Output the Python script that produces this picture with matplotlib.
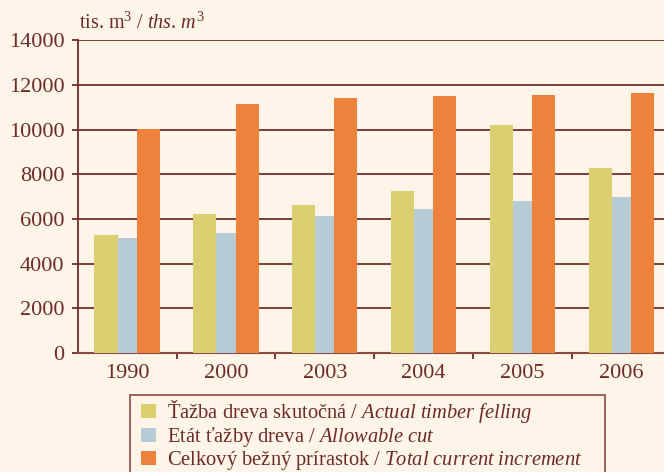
import matplotlib.pyplot as plt
import numpy as np
from matplotlib.patches import Rectangle

plt.rcParams['font.family'] = ['Liberation Serif', 'DejaVu Serif']
plt.rcParams['mathtext.fontset'] = 'custom'
plt.rcParams['mathtext.rm'] = 'Liberation Serif'
plt.rcParams['mathtext.it'] = 'Liberation Serif:italic'

years = ['1990', '2000', '2003', '2004', '2005', '2006']
felling = [5270, 6240, 6640, 7260, 10210, 8290]
allowable = [5130, 5350, 6150, 6460, 6820, 7000]
increment = [10030, 11140, 11410, 11500, 11540, 11630]

labels = [
    'Ťažba dreva skutočná / $\\mathit{Actual\\ timber\\ felling}$',
    'Etát ťažby dreva / $\\mathit{Allowable\\ cut}$',
    'Celkový bežný prírastok / $\\mathit{Total\\ current\\ increment}$',
]

bg = '#fef4e8'
brown = '#6e2a2a'
colors = ['#dccf72', '#b6cbd5', '#ee823c']

fig = plt.figure(figsize=(6.64, 4.72), dpi=100, facecolor=bg)
ax = fig.add_axes([0.117, 0.252, 0.893, 0.663])
ax.set_facecolor(bg)

x = np.arange(len(years))
# left edges and widths of the three bars in a group
edges = [-0.33, -0.097, 0.097]
widths = [0.233, 0.194, 0.233]
series = [felling, allowable, increment]
for s, e, w, c, lab in zip(series, edges, widths, colors, labels):
    ax.bar(x + e, s, width=w, align='edge', color=c, label=lab, zorder=3)

ax.set_xlim(-0.5, 5.5)
ax.set_ylim(0, 14000)
ax.set_yticks(np.arange(0, 14001, 2000))
ax.set_xticks(x)
ax.set_xticklabels(years)
ax.set_xticks(np.arange(0.5, 5.5, 1), minor=True)

ax.yaxis.grid(True, color='#70302e', linewidth=1.3, zorder=1)
ax.set_axisbelow(True)

for sp in ['top', 'right']:
    ax.spines[sp].set_visible(False)
ax.spines['left'].set_color(brown)
ax.spines['left'].set_linewidth(1.3)
ax.spines['bottom'].set_color('#8a4a46')
ax.spines['bottom'].set_linewidth(1.5)

ax.tick_params(axis='y', colors=brown, labelsize=16, length=4.5, width=1.3, pad=5)
ax.tick_params(axis='x', which='major', length=0, labelsize=16, labelcolor=brown, pad=8)
ax.tick_params(axis='x', which='minor', length=4, width=1.3, color=brown)

fig.text(0.119, 0.94, 'tis. m$^{3}$ / $\\mathit{ths.\\,m}^{3}$', fontsize=14.5,
         color=brown, ha='left', va='baseline')

fig.patches.append(Rectangle((130 / 664, -0.1), 475 / 664, 0.1 + 1 - 395 / 472,
                             transform=fig.transFigure, fill=False,
                             edgecolor='#8a4a46', linewidth=1.2))
leg = fig.legend(loc='upper left', bbox_to_anchor=(137 / 664, 1 - 394 / 472),
                 frameon=False, fontsize=14.8, labelcolor=brown, handlelength=0.72,
                 handleheight=0.72, handletextpad=0.55, labelspacing=0.0,
                 borderaxespad=0, borderpad=0.2)

fig.savefig('out.png', dpi=100, facecolor=bg)
